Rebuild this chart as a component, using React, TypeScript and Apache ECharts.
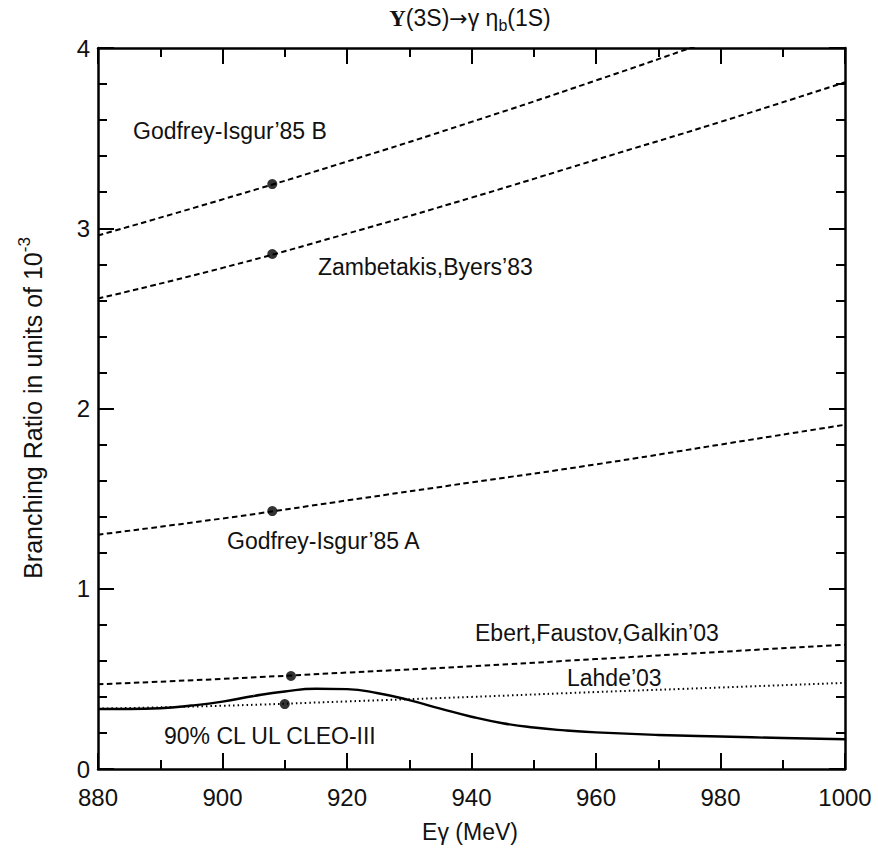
import React, { useEffect, useRef } from "react";
import * as echarts from "echarts";

const energies = [880, 885, 890, 895, 900, 905, 910, 915, 920, 925, 930, 935, 940, 945, 950, 955, 960, 970, 980, 990, 1000];
const cleoUL = [0.333, 0.333, 0.337, 0.352, 0.374, 0.405, 0.43, 0.445, 0.443, 0.42, 0.382, 0.335, 0.29, 0.254, 0.23, 0.214, 0.203, 0.189, 0.18, 0.172, 0.165];

const modelE = [880, 900, 920, 940, 960, 980, 1000];
const godfreyB = [2.96, 3.16, 3.37, 3.59, 3.82, 4.06, 4.31];
const zambetakis = [2.61, 2.78, 2.97, 3.17, 3.38, 3.59, 3.81];
const godfreyA = [1.3, 1.39, 1.49, 1.59, 1.69, 1.8, 1.91];
const ebert = [0.47, 0.5, 0.535, 0.57, 0.61, 0.65, 0.69];
const lahde = [0.335, 0.351, 0.375, 0.4, 0.427, 0.452, 0.478];

const dotE = [908, 908, 908, 911, 910];
const dotBR = [3.245, 2.857, 1.431, 0.516, 0.36];

const xTicks = { min: 880, max: 1000, step: 20 };
const yTicks = { min: 0, max: 4, step: 1 };

const FONT = "Liberation Sans, Arial, Helvetica, sans-serif";

const pair = (xs: number[], ys: number[]) => xs.map((x, i) => [x, ys[i]]);

export default function App() {
  const ref = useRef<HTMLDivElement>(null);
  useEffect(() => {
    if (!ref.current) return;
    const chart = echarts.init(ref.current, null, { renderer: "svg" });
    const axisCommon = {
      type: "value" as const,
      axisLine: { show: true, onZero: false, lineStyle: { color: "#000", width: 2.5 } },
      axisTick: { show: true, inside: true, length: 16, lineStyle: { color: "#000", width: 2 } },
      minorTick: { show: true, length: 9, lineStyle: { color: "#000", width: 2 } },
      splitLine: { show: false },
    };
    const xBase = { ...axisCommon, min: xTicks.min, max: xTicks.max, interval: xTicks.step, minorTick: { ...axisCommon.minorTick, splitNumber: 2 } };
    const yBase = { ...axisCommon, min: yTicks.min, max: yTicks.max, interval: yTicks.step, minorTick: { ...axisCommon.minorTick, splitNumber: 5 } };
    const dashed = (name: string, ys: number[]) => ({
      name,
      type: "line",
      data: pair(modelE, ys),
      smooth: true,
      symbol: "none",
      clip: true,
      lineStyle: { color: "#000", width: 2, type: [5.5, 3.5] },
    });
    const txt = (text: string, x: number, y: number) => ({
      type: "text",
      x,
      y,
      style: { text, fill: "#111", font: `23px ${FONT}`, textVerticalAlign: "middle" },
    });
    chart.setOption({
      animation: false,
      backgroundColor: "#fff",
      grid: { left: 98, right: 33, top: 48, bottom: 79, containLabel: false },
      xAxis: [
        {
          ...xBase,
          position: "bottom",
          axisLabel: { color: "#111", fontSize: 24, fontFamily: FONT, margin: 16, formatter: (v: number) => String(v) },
        },
        { ...xBase, position: "top", axisLabel: { show: false } },
      ],
      yAxis: [
        { ...yBase, position: "left", axisLabel: { color: "#111", fontSize: 24, fontFamily: FONT, margin: 8 } },
        { ...yBase, position: "right", axisLabel: { show: false } },
      ],
      series: [
        dashed("Godfrey-Isgur'85 B", godfreyB),
        dashed("Zambetakis,Byers'83", zambetakis),
        dashed("Godfrey-Isgur'85 A", godfreyA),
        dashed("Ebert,Faustov,Galkin'03", ebert),
        {
          name: "Lahde'03",
          type: "line",
          data: pair(modelE, lahde),
          smooth: true,
          symbol: "none",
          lineStyle: { color: "#000", width: 2, type: [1.5, 3] },
        },
        {
          name: "90% CL UL CLEO-III",
          type: "line",
          data: pair(energies, cleoUL),
          smooth: 0.5,
          symbol: "none",
          lineStyle: { color: "#000", width: 2.4, type: "solid" },
        },
        {
          name: "points",
          type: "scatter",
          data: pair(dotE, dotBR),
          symbol: "circle",
          symbolSize: 10,
          itemStyle: { color: "#000" },
        },
      ],
      graphic: [
        {
          type: "text",
          x: 470,
          y: 18,
          style: {
            text: "{u|Υ}{n|(3S)}{a|→}{n|γ η}{s|b}{n|(1S)}",
            textAlign: "center",
            textVerticalAlign: "middle",
            rich: {
              u: { font: `bold 23px Liberation Serif, DejaVu Serif, serif`, fill: "#111" },
              n: { font: `23px ${FONT}`, fill: "#111" },
              a: { font: `22px DejaVu Sans, sans-serif`, fill: "#111" },
              s: { font: `16px ${FONT}`, fill: "#111", padding: [14, 0, 0, 0] },
            },
          },
        },
        {
          type: "text",
          x: 33,
          y: 408,
          rotation: Math.PI / 2,
          style: {
            text: "{n|Branching Ratio in units of 10}{s|-3}",
            textAlign: "center",
            textVerticalAlign: "middle",
            rich: {
              n: { font: `25px ${FONT}`, fill: "#111" },
              s: { font: `17px ${FONT}`, fill: "#111", padding: [0, 0, 18, 0] },
            },
          },
        },
        {
          type: "text",
          x: 470,
          y: 832,
          style: { text: "Eγ (MeV)", font: `23px ${FONT}`, fill: "#111", textAlign: "center", textVerticalAlign: "middle" },
        },
        txt("Godfrey-Isgur’85 B", 133, 131),
        txt("Zambetakis,Byers’83", 318, 267),
        txt("Godfrey-Isgur’85 A", 227, 541),
        txt("Ebert,Faustov,Galkin’03", 475, 633),
        txt("Lahde’03", 567, 678),
        txt("90% CL UL CLEO-III", 164, 736),
      ],
    });
    return () => chart.dispose();
  }, []);
  return <div ref={ref} style={{ position: "absolute", left: 0, top: 0, width: 878, height: 848 }} />;
}
